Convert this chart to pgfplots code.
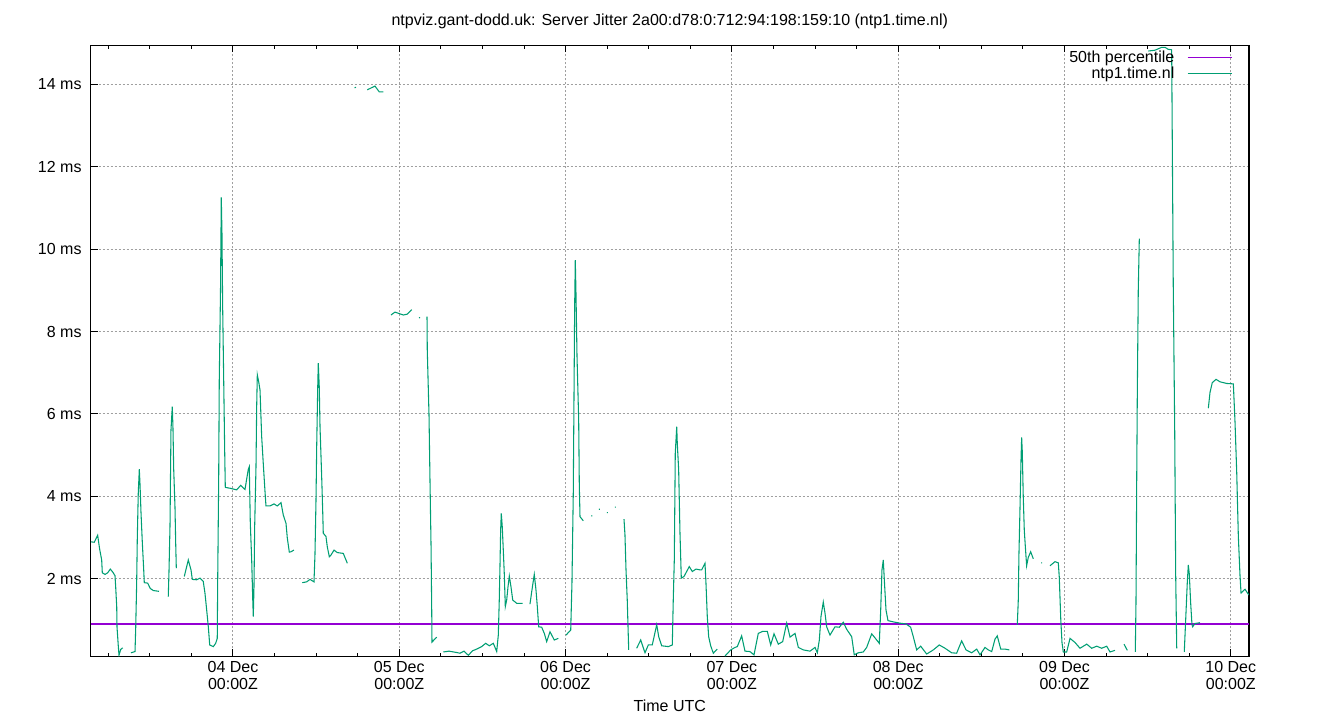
\documentclass[border=0pt]{standalone}
\usepackage{pgfplots}
\pgfplotsset{compat=1.18}
\usepackage{fontspec}
\setmainfont{Liberation Sans}
\definecolor{ntpgreen}{RGB}{0,158,115}
\definecolor{ntpviolet}{RGB}{148,0,211}
\newcommand{\lbl}{\fontsize{12}{12.75}\selectfont}
\begin{document}
\begin{tikzpicture}
\begin{axis}[
  at={(0,0)}, anchor=south west,
  scale only axis, width=868.7pt, height=458.25pt,
  xmin=-20.54, xmax=146.62, ymin=0.126, ymax=14.94,
  unbounded coords=jump,
  axis line style={line width=0.9pt},
  xtick={0,24,48,72,96,120,144},
  xticklabels={{04 Dec\\00:00Z},{05 Dec\\00:00Z},{06 Dec\\00:00Z},{07 Dec\\00:00Z},{08 Dec\\00:00Z},{09 Dec\\00:00Z},{10 Dec\\00:00Z}},
  minor xtick={-18,-12,-6,6,12,18,30,36,42,54,60,66,78,84,90,102,108,114,126,132,138},
  ytick={2,4,6,8,10,12,14},
  yticklabels={2 ms,4 ms,6 ms,8 ms,10 ms,12 ms,14 ms},
  xtick pos=both, ytick pos=left,
  tick align=inside,
  major tick length=5.25pt, minor tick length=2.6pt,
  every tick/.style={black, line width=0.75pt},
  grid=major,
  major grid style={gray!75, line width=0.75pt, dash pattern=on 1.5pt off 1.5pt},
  xticklabel style={align=center, font=\lbl},
  yticklabel style={font=\lbl, xshift=-3.3pt},
  title={ntpviz.gant-dodd.uk: Server Jitter 2a00:d78:0:712:94:198:159:10 (ntp1.time.nl)},
  title style={font=\lbl, at={(0.5,1)}, anchor=base, yshift=9pt},
  xlabel={Time UTC},
  xlabel style={font=\lbl, at={(0.5,0)}, anchor=base, yshift=-41.4pt},
  legend plot pos=right,
  legend cell align=right,
  legend style={draw=none, fill=none, font=\lbl, at={(0.986,0.996)}, anchor=north east,
    inner sep=0pt, row sep=-2.2pt, nodes={inner sep=2pt}},
]
\addplot[draw=ntpviolet, line width=1.1pt,
  legend image code/.code={\path (0pt,0pt); \draw[ntpviolet, line width=1.1pt] (7.5pt,0pt) -- (40.5pt,0pt);}]
  coordinates {(-20.54,0.91) (146.62,0.91)};
\addlegendentry{50th percentile}
\addplot[draw=ntpgreen, line width=0.8pt,
  legend image code/.code={\path (0pt,0pt); \draw[ntpgreen, line width=1.1pt] (7.5pt,0pt) -- (40.5pt,0pt);}]
  coordinates {
(-20.49,2.90) (-20.02,2.89) (-19.53,3.06) (-19.24,2.72) (-18.95,2.46) (-18.86,2.15)
(-18.47,2.11) (-18.08,2.15) (-17.71,2.24) (-17.32,2.16) (-17.03,2.08) (-16.93,1.81)
(-16.78,1.33) (-16.74,0.84) (-16.55,0.37) (-16.45,0.15) (-16.21,0.29) (-15.92,0.33)
(-15.3,nan)
(-14.72,0.21) (-14.14,0.24) (-14.04,0.80) (-13.90,1.91) (-13.81,2.99) (-13.67,4.08)
(-13.52,4.66) (-13.42,4.30) (-13.28,3.63) (-13.09,2.90) (-12.89,2.24) (-12.80,1.91)
(-12.31,1.90) (-11.94,1.77) (-11.50,1.72) (-10.68,1.70)
(-10.0,nan)
(-9.34,1.57) (-9.24,2.15) (-9.09,3.29) (-8.95,5.61) (-8.76,6.18) (-8.66,5.65)
(-8.56,4.68) (-8.37,3.74) (-8.27,2.88) (-8.18,2.26)
(-7.6,nan)
(-7.03,2.06) (-6.45,2.46) (-6.06,2.22) (-5.87,1.99) (-5.24,1.98) (-4.76,2.02)
(-4.29,1.94) (-4.04,1.65) (-3.75,1.17) (-3.56,0.84) (-3.36,0.40) (-2.84,0.36)
(-2.50,0.44) (-2.27,0.56) (-2.21,1.90) (-2.06,4.52) (-1.98,6.82) (-1.80,9.01)
(-1.69,11.25) (-1.59,10.38) (-1.49,8.60) (-1.34,6.82) (-1.20,5.13) (-1.11,4.22)
(-0.43,4.20) (0.53,4.16) (1.11,4.27) (1.73,4.17) (2.21,4.66) (2.35,4.72)
(2.50,3.35) (2.70,2.46) (2.84,1.57) (2.93,1.09) (3.03,1.81) (3.13,3.27)
(3.32,4.72) (3.42,6.18) (3.51,6.95) (3.71,6.78) (3.90,6.58) (4.14,5.45)
(4.37,4.80) (4.62,4.12) (4.76,3.77) (5.34,3.77) (5.92,3.82) (6.39,3.77)
(6.93,3.85) (7.26,3.55) (7.65,3.35) (7.84,2.99) (8.13,2.65) (8.37,2.66) (8.80,2.70)
(9.4,nan)
(10.00,1.91) (10.64,1.93) (11.11,1.99) (11.69,1.93) (11.83,2.58) (11.98,3.91)
(12.08,5.20) (12.22,6.58) (12.31,7.23) (12.45,6.66) (12.56,5.69) (12.80,4.48)
(12.95,3.63) (13.03,3.11) (13.42,3.03) (13.61,2.78) (13.90,2.54) (14.14,2.58)
(14.58,2.70) (15.05,2.64) (15.92,2.62) (16.50,2.38)
(17.0,nan)
(17.55,13.91) (17.75,13.92)
(18.5,nan)
(19.38,13.86) (20.49,13.95) (21.11,13.81) (21.69,13.81)
(22.2,nan)
(22.80,8.40) (23.38,8.47) (24.58,8.40) (25.15,8.42) (25.79,8.53)
(26.3,nan)
(26.85,8.33) (27.00,8.34)
(27.5,nan)
(28.00,8.36) (28.04,7.55) (28.29,5.97) (28.43,4.40) (28.58,2.83) (28.68,1.26)
(28.72,0.47) (29.40,0.59)
(29.9,nan)
(30.35,0.23) (31.17,0.25) (32.18,0.22) (32.76,0.20) (33.34,0.25) (33.96,0.15)
(34.59,0.26) (35.17,0.30) (35.89,0.36) (36.47,0.44) (36.99,0.38) (37.57,0.44)
(38.06,0.24) (38.29,0.64) (38.43,1.49) (38.53,2.30) (38.63,3.19) (38.72,3.59)
(38.86,3.27) (39.01,2.70) (39.15,2.14) (39.30,1.33) (39.50,1.49) (39.69,1.81)
(39.88,2.07) (40.12,1.81) (40.37,1.49) (40.94,1.41) (41.81,1.41)
(42.3,nan)
(42.86,1.39) (43.11,1.69) (43.48,2.11) (43.73,1.73) (43.92,1.33) (44.12,0.84)
(44.55,0.83) (44.93,0.68) (45.27,0.48) (45.75,0.72) (46.37,0.52) (46.95,0.56)
(47.5,nan)
(48.06,0.64) (48.74,0.76) (48.92,1.90) (49.11,4.08) (49.21,6.34) (49.31,8.60)
(49.40,9.73) (49.50,8.93) (49.65,7.39) (49.89,5.85) (49.98,4.28) (50.08,3.51) (50.56,3.41)
(51.2,nan)
(51.70,3.53) (51.85,3.53)
(52.3,nan)
(52.80,3.69) (52.95,3.69)
(53.5,nan)
(53.95,3.61) (54.10,3.61)
(54.6,nan)
(55.10,3.74) (55.25,3.74)
(55.8,nan)
(56.43,3.45) (56.57,3.07) (56.72,2.22) (56.90,1.49) (57.01,0.84) (57.11,0.28)
(57.7,nan)
(58.26,0.32) (58.84,0.52) (59.46,0.21) (59.94,0.40) (60.51,0.40) (61.15,0.89)
(61.44,0.60) (61.87,0.38) (62.83,0.36) (63.40,0.40) (63.54,1.49) (63.69,2.46)
(63.83,5.05) (64.04,5.69) (64.12,5.29) (64.32,4.64) (64.51,3.11) (64.70,2.02)
(65.09,2.06) (65.85,2.30) (66.29,2.18) (66.82,2.24) (67.40,2.22) (67.64,2.22)
(68.12,2.38) (68.26,1.90) (68.45,1.09) (68.65,0.60) (68.94,0.38) (69.32,0.20) (69.89,0.30)
(70.4,nan)
(71.00,0.13) (71.83,0.28) (72.45,0.34) (72.78,0.36) (73.41,0.62) (73.89,0.25)
(74.61,0.24) (75.19,0.16) (75.81,0.68) (76.45,0.73) (77.11,0.73) (77.60,0.40)
(78.08,0.67) (78.70,0.42) (79.33,0.48) (79.91,0.93) (80.39,0.59) (81.11,0.68)
(81.59,0.34) (82.31,0.28) (83.28,0.25) (84.00,0.34) (84.33,0.21) (84.62,0.52)
(84.86,1.09) (85.19,1.44) (85.44,1.17) (85.68,0.84) (86.16,0.64) (86.88,0.84)
(87.50,0.83) (88.08,0.95) (88.57,0.78) (89.29,0.60) (89.66,0.16) (90.24,0.21)
(90.96,0.23) (91.45,0.34) (92.18,0.67) (92.90,0.52) (93.27,0.44) (93.47,1.21)
(93.66,2.22) (93.85,2.46) (94.00,1.98) (94.24,1.25) (94.53,0.99) (95.29,0.96)
(96.16,0.93) (97.13,0.91) (97.80,0.83) (98.18,0.60) (98.67,0.28) (99.25,0.37)
(100.11,0.18) (101.07,0.28) (101.93,0.40) (102.76,0.32) (103.72,0.21) (104.44,0.20)
(105.16,0.50) (105.79,0.28) (106.61,0.21) (107.33,0.30) (107.81,0.16) (108.53,0.34)
(109.00,0.28) (109.50,0.24) (109.97,0.54) (110.30,0.62) (110.80,0.30) (111.41,0.30) (112.04,0.28)
(112.6,nan)
(113.19,0.89) (113.33,1.47) (113.43,2.61) (113.58,3.71) (113.72,4.85) (113.82,5.43)
(113.91,5.09) (114.05,4.00) (114.20,3.18) (114.40,2.66) (114.54,2.32) (114.77,2.52)
(115.12,2.66) (115.50,2.49)
(116.1,nan)
(116.64,2.39) (116.79,2.39)
(117.3,nan)
(117.91,2.32) (118.63,2.42) (119.11,2.39) (119.25,2.04) (119.46,1.04) (119.64,0.46)
(119.83,0.23) (120.32,0.23) (120.80,0.56) (121.52,0.46) (122.24,0.32) (123.21,0.42)
(123.93,0.32) (124.65,0.37) (125.37,0.32) (126.09,0.37) (126.57,0.23) (127.29,0.27)
(127.9,nan)
(128.59,0.42) (129.07,0.27)
(129.6,nan)
(130.22,0.23) (130.32,1.42) (130.42,4.28) (130.51,6.48) (130.65,9.01) (130.80,10.25)
(131.4,nan)
(132.10,14.80) (133.06,14.82) (134.03,14.89) (134.51,14.89) (134.98,14.84) (135.47,14.83)
(135.56,12.58) (135.70,9.10) (135.91,5.57) (136.05,2.09) (136.20,0.32)
(136.7,nan)
(137.29,0.23) (137.50,1.04) (137.72,1.90) (137.87,2.34) (138.01,2.13) (138.21,1.42)
(138.40,0.89) (138.50,0.84) (138.83,0.92) (139.56,0.94)
(140.2,nan)
(140.76,6.14) (141.00,6.52) (141.33,6.76) (141.87,6.84) (142.45,6.78) (143.41,6.74)
(144.37,6.73) (144.61,5.81) (144.86,4.57) (145.09,3.04) (145.33,2.09) (145.48,1.66)
(146.05,1.75) (146.62,1.61)
};
\addlegendentry{ntp1.time.nl}
\end{axis}
\pgfresetboundingbox
\path (-68.0pt,-47.8pt) rectangle (937.0pt,492.2pt);
\end{tikzpicture}
\end{document}
